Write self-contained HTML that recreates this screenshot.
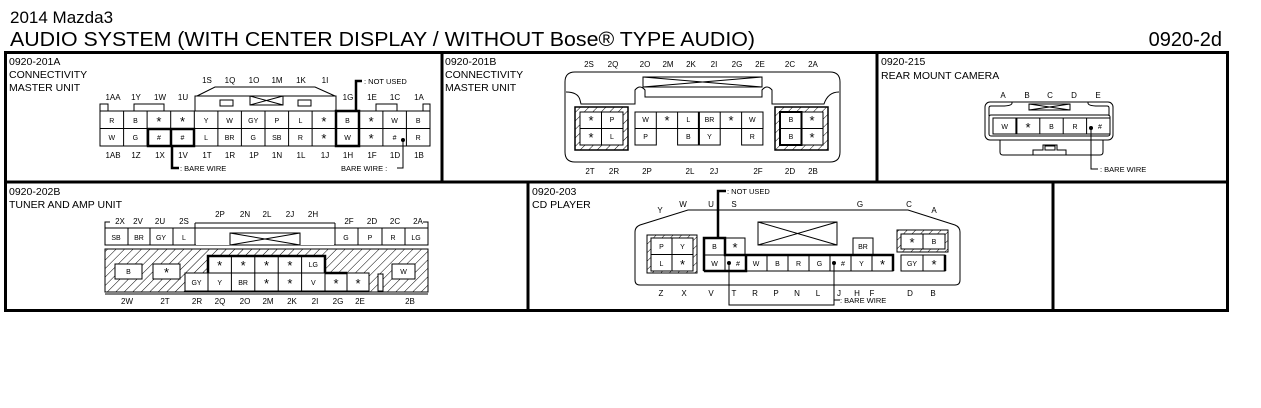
<!DOCTYPE html>
<html><head><meta charset="utf-8"><style>
html,body{margin:0;padding:0;background:#fff;}
svg{display:block;font-family:"Liberation Sans",Arial,sans-serif;}
svg text[font-size="11"]{font-size:13px;transform:translateY(2px);}
</style></head><body>
<svg width="1261" height="408" viewBox="0 0 1261 408" xmlns="http://www.w3.org/2000/svg">
<defs>
<pattern id="h" patternUnits="userSpaceOnUse" width="6" height="6" patternTransform="rotate(45)"><rect width="6" height="6" fill="#fff"/><line x1="0" y1="0" x2="0" y2="6" stroke="#000" stroke-width="1"/></pattern>
</defs>
<rect width="1261" height="408" fill="#fff"/>
<text x="10" y="23" font-size="17">2014 Mazda3</text>
<text x="10" y="46" font-size="20" textLength="745" lengthAdjust="spacingAndGlyphs">AUDIO SYSTEM (WITH CENTER DISPLAY / WITHOUT Bose® TYPE AUDIO)</text>
<text x="1222" y="46" font-size="20" text-anchor="end">0920-2d</text>

<g stroke="#000" stroke-width="3" fill="none">
<rect x="5.5" y="52.5" width="1222" height="258"/>
<line x1="5" y1="182" x2="1228" y2="182"/>
<line x1="442" y1="52" x2="442" y2="182"/>
<line x1="877" y1="52" x2="877" y2="182"/>
<line x1="528" y1="182" x2="528" y2="311"/>
<line x1="1053" y1="182" x2="1053" y2="311"/>
</g>

<g font-size="10.5">
<text x="9" y="65">0920-201A</text><text x="9" y="78">CONNECTIVITY</text><text x="9" y="91">MASTER UNIT</text>
<text x="445" y="65">0920-201B</text><text x="445" y="78">CONNECTIVITY</text><text x="445" y="91">MASTER UNIT</text>
<text x="881" y="65">0920-215</text><text x="881" y="79">REAR MOUNT CAMERA</text>
<text x="9" y="195">0920-202B</text><text x="9" y="208">TUNER AND AMP UNIT</text>
<text x="532" y="195">0920-203</text><text x="532" y="208">CD PLAYER</text>
</g>

<!-- ===== 201A ===== -->
<g stroke="#000" stroke-width="1" fill="none">
<polyline points="197,96 215,87 315,87 335,96"/>
<rect x="195" y="96" width="141" height="15"/>
<rect x="220" y="100" width="13" height="6"/>
<rect x="298" y="100" width="13" height="6"/>
<rect x="250" y="96" width="33" height="9"/><line x1="250" y1="96" x2="283" y2="105"/><line x1="250" y1="105" x2="283" y2="96"/>
<rect x="134" y="104" width="30" height="7"/>
<rect x="376" y="104" width="21" height="7"/>
<rect x="100" y="104" width="8" height="7"/>
<rect x="423" y="104" width="7" height="7"/>
<rect x="100" y="111" width="330" height="35"/>
<line x1="100" y1="128.5" x2="430" y2="128.5"/>
<line x1="123.6" y1="111" x2="123.6" y2="146"/><line x1="147.1" y1="111" x2="147.1" y2="146"/><line x1="170.7" y1="111" x2="170.7" y2="146"/><line x1="194.3" y1="111" x2="194.3" y2="146"/><line x1="217.9" y1="111" x2="217.9" y2="146"/><line x1="241.4" y1="111" x2="241.4" y2="146"/><line x1="265" y1="111" x2="265" y2="146"/><line x1="288.6" y1="111" x2="288.6" y2="146"/><line x1="312.1" y1="111" x2="312.1" y2="146"/><line x1="335.7" y1="111" x2="335.7" y2="146"/><line x1="359.3" y1="111" x2="359.3" y2="146"/><line x1="382.9" y1="111" x2="382.9" y2="146"/><line x1="406.4" y1="111" x2="406.4" y2="146"/>
</g>
<g stroke="#000" stroke-width="2.5" fill="none">
<rect x="148" y="129" width="46" height="17"/><line x1="171" y1="129" x2="171" y2="146"/>
<rect x="336" y="111" width="23" height="35"/>
<polyline points="356,111 356,81 362,81"/>
<polyline points="172,146 172,168 179,168"/>
</g>
<g stroke="#000" stroke-width="1" fill="none"><polyline points="403,140 403,168 397,168"/></g>
<circle cx="403" cy="140" r="2" fill="#000"/>
<g font-size="7" text-anchor="middle">
<text x="111.8" y="123">R</text><text x="135.4" y="123">B</text><text x="158.9" y="124" font-size="11">*</text><text x="182.5" y="124" font-size="11">*</text><text x="206.1" y="123">Y</text><text x="229.6" y="123">W</text><text x="253.2" y="123">GY</text><text x="276.8" y="123">P</text><text x="300.4" y="123">L</text><text x="323.9" y="124" font-size="11">*</text><text x="347.5" y="123">B</text><text x="371.1" y="124" font-size="11">*</text><text x="394.6" y="123">W</text><text x="418.2" y="123">B</text>
<text x="111.8" y="140">W</text><text x="135.4" y="140">G</text><text x="158.9" y="140">#</text><text x="182.5" y="140">#</text><text x="206.1" y="140">L</text><text x="229.6" y="140">BR</text><text x="253.2" y="140">G</text><text x="276.8" y="140">SB</text><text x="300.4" y="140">R</text><text x="323.9" y="141" font-size="11">*</text><text x="347.5" y="140">W</text><text x="371.1" y="141" font-size="11">*</text><text x="394.6" y="140">#</text><text x="418.2" y="140">R</text>
</g>
<g font-size="8" text-anchor="middle">
<text x="113" y="100">1AA</text><text x="136" y="100">1Y</text><text x="160" y="100">1W</text><text x="183" y="100">1U</text>
<text x="207" y="83">1S</text><text x="230" y="83">1Q</text><text x="254" y="83">1O</text><text x="277" y="83">1M</text><text x="301" y="83">1K</text><text x="325" y="83">1I</text>
<text x="348" y="100">1G</text><text x="372" y="100">1E</text><text x="395" y="100">1C</text><text x="419" y="100">1A</text>
<text x="113" y="158">1AB</text><text x="136" y="158">1Z</text><text x="160" y="158">1X</text><text x="183" y="158">1V</text><text x="207" y="158">1T</text><text x="230" y="158">1R</text><text x="254" y="158">1P</text><text x="277" y="158">1N</text><text x="301" y="158">1L</text><text x="325" y="158">1J</text><text x="348" y="158">1H</text><text x="372" y="158">1F</text><text x="395" y="158">1D</text><text x="419" y="158">1B</text>
</g>
<g font-size="7.5"><text x="364" y="84">: NOT USED</text><text x="180" y="171">: BARE WIRE</text><text x="341" y="171">BARE WIRE :</text></g>

<!-- ===== 201B ===== -->
<g stroke="#000" stroke-width="1" fill="none">
<path d="M575,72 H830 Q840,72 840,82 V152 Q840,162 830,162 H575 Q565,162 565,152 V82 Q565,72 575,72 Z"/>
<path d="M566,92 Q578,92 580,100 L581,104 H635 V90 Q640,84 645,90 V97 H762 V90 Q767,84 772,90 V104 H824 Q828,92 839,92" />
<path d="M635,145 V130 Q640,124 645,130 V145"/>
<path d="M699,145 V130 Q704,124 709,130 V145"/>
<rect x="643" y="77" width="119" height="10"/><line x1="643" y1="77" x2="762" y2="87"/><line x1="643" y1="87" x2="762" y2="77"/>
</g>
<rect x="575" y="107" width="53" height="43" fill="url(#h)" stroke="#000" stroke-width="1.5"/>
<rect x="580" y="112" width="43" height="33" fill="#fff" stroke="#000"/>
<line x1="580" y1="128.5" x2="623" y2="128.5" stroke="#000"/><line x1="601.5" y1="112" x2="601.5" y2="145" stroke="#000"/>
<rect x="775" y="107" width="53" height="43" fill="url(#h)" stroke="#000" stroke-width="1.5"/>
<rect x="780" y="112" width="43" height="33" fill="#fff" stroke="#000"/>
<line x1="780" y1="128.5" x2="823" y2="128.5" stroke="#000"/><line x1="801.5" y1="112" x2="801.5" y2="145" stroke="#000"/>
<rect x="780" y="112" width="21.5" height="33" fill="none" stroke="#000" stroke-width="2"/>
<g stroke="#000" stroke-width="1" fill="#fff">
<rect x="635" y="112" width="128" height="16.5"/>
<rect x="635" y="128.5" width="21.3" height="16.5"/>
<rect x="677.6" y="128.5" width="42.6" height="16.5"/>
<rect x="741.6" y="128.5" width="21.3" height="16.5"/>
</g>
<g stroke="#000" stroke-width="1"><line x1="656.3" y1="112" x2="656.3" y2="128"/><line x1="677.6" y1="112" x2="677.6" y2="128"/><line x1="720.2" y1="112" x2="720.2" y2="128"/><line x1="741.6" y1="112" x2="741.6" y2="128"/></g>
<line x1="698.9" y1="112" x2="698.9" y2="145" stroke="#000" stroke-width="2"/>
<g font-size="7" text-anchor="middle">
<text x="591" y="123" font-size="11">*</text><text x="612" y="122">P</text><text x="591" y="140" font-size="11">*</text><text x="612" y="139">L</text>
<text x="645.6" y="122">W</text><text x="667" y="123" font-size="11">*</text><text x="688.3" y="122">L</text><text x="709.5" y="122">BR</text><text x="731" y="123" font-size="11">*</text><text x="752.3" y="122">W</text>
<text x="645.6" y="139">P</text><text x="688.3" y="139">B</text><text x="709.5" y="139">Y</text><text x="752.3" y="139">R</text>
<text x="791" y="122">B</text><text x="812" y="123" font-size="11">*</text><text x="791" y="139">B</text><text x="812" y="140" font-size="11">*</text>
</g>
<g font-size="8" text-anchor="middle">
<text x="589" y="67">2S</text><text x="613" y="67">2Q</text><text x="645" y="67">2O</text><text x="668" y="67">2M</text><text x="691" y="67">2K</text><text x="714" y="67">2I</text><text x="737" y="67">2G</text><text x="760" y="67">2E</text><text x="790" y="67">2C</text><text x="813" y="67">2A</text>
<text x="590" y="174">2T</text><text x="614" y="174">2R</text><text x="647" y="174">2P</text><text x="690" y="174">2L</text><text x="714" y="174">2J</text><text x="758" y="174">2F</text><text x="790" y="174">2D</text><text x="813" y="174">2B</text>
</g>

<!-- ===== 215 ===== -->
<g stroke="#000" stroke-width="1" fill="none">
<rect x="985" y="102" width="128" height="38" rx="5"/>
<path d="M989,116 V108 Q989,106 991,106 H1002 Q1012,106 1012,103 V102"/>
<path d="M1109,116 V108 Q1109,106 1107,106 H1098 Q1088,106 1088,103 V102"/>
<rect x="1029" y="104" width="41" height="6"/><line x1="1029" y1="104" x2="1070" y2="110"/><line x1="1029" y1="110" x2="1070" y2="104"/>
<rect x="989" y="115" width="121" height="21" rx="2"/>
<path d="M1000,140 V152 Q1000,155 1003,155 H1100 Q1103,155 1103,152 V140"/>
<path d="M1033,155 V150 H1043 V145 H1057 V150 H1066 V155"/>
<rect x="1045" y="146" width="10" height="4"/>
</g>
<rect x="993" y="118" width="117" height="16" fill="#fff" stroke="#000"/>
<g stroke="#000"><line x1="1016.4" y1="118" x2="1016.4" y2="134" stroke-width="2"/><line x1="1039.8" y1="118" x2="1039.8" y2="134"/><line x1="1063.2" y1="118" x2="1063.2" y2="134"/><line x1="1086.6" y1="118" x2="1086.6" y2="134"/></g>
<circle cx="1091" cy="128" r="2" fill="#000"/>
<polyline points="1091,128 1091,169 1098,169" stroke="#000" fill="none"/>
<g font-size="7" text-anchor="middle">
<text x="1004.7" y="129">W</text><text x="1028" y="130" font-size="11">*</text><text x="1051.5" y="129">B</text><text x="1075" y="129">R</text><text x="1100" y="129">#</text>
</g>
<g font-size="8" text-anchor="middle"><text x="1003" y="98">A</text><text x="1027" y="98">B</text><text x="1050" y="98">C</text><text x="1074" y="98">D</text><text x="1098" y="98">E</text></g>
<text x="1100" y="172" font-size="7.5">: BARE WIRE</text>

<!-- ===== 202B ===== -->
<rect x="105" y="249" width="323" height="43" fill="url(#h)" stroke="#000"/>
<line x1="105" y1="294" x2="428" y2="294" stroke="#000"/>
<g stroke="#000" stroke-width="1" fill="none">
<polyline points="105,228 105,222 110,222"/><polyline points="423,222 428,222 428,228"/>
<rect x="105" y="228" width="323" height="17"/>
<line x1="128" y1="228" x2="128" y2="245"/><line x1="150" y1="228" x2="150" y2="245"/><line x1="173" y1="228" x2="173" y2="245"/>
<line x1="358" y1="228" x2="358" y2="245"/><line x1="382" y1="228" x2="382" y2="245"/><line x1="405" y1="228" x2="405" y2="245"/>
</g>
<rect x="196" y="229" width="138" height="16" fill="#fff"/>
<g stroke="#000" fill="none"><line x1="195" y1="223" x2="195" y2="245"/><line x1="335" y1="223" x2="335" y2="245"/><line x1="195" y1="223" x2="335" y2="223"/><rect x="230" y="233" width="70" height="12"/><line x1="230" y1="233" x2="300" y2="245"/><line x1="230" y1="245" x2="300" y2="233"/></g>
<g stroke="#000" fill="#fff">
<rect x="115" y="264" width="27" height="15"/>
<rect x="153" y="264" width="27" height="15"/>
<rect x="208" y="256" width="117" height="17"/>
<rect x="185" y="273" width="140" height="18"/>
<rect x="325" y="273" width="44" height="18"/>
<rect x="378" y="274" width="5" height="17"/>
<rect x="392" y="264" width="23" height="15"/>
</g>
<g stroke="#000"><line x1="231.4" y1="256" x2="231.4" y2="291"/><line x1="254.8" y1="256" x2="254.8" y2="291"/><line x1="278.2" y1="256" x2="278.2" y2="291"/><line x1="301.6" y1="256" x2="301.6" y2="291"/><line x1="208" y1="273" x2="208" y2="291"/><line x1="347" y1="273" x2="347" y2="291"/></g>
<g stroke="#000" stroke-width="2.5" fill="none"><polyline points="208,273 208,256 325,256 325,273"/><line x1="325" y1="273" x2="347" y2="273"/></g>
<g font-size="7" text-anchor="middle">
<text x="116" y="240">SB</text><text x="139" y="240">BR</text><text x="161" y="240">GY</text><text x="184" y="240">L</text>
<text x="346" y="240">G</text><text x="370" y="240">P</text><text x="393" y="240">R</text><text x="416" y="240">LG</text>
<text x="128.5" y="274">B</text><text x="166.5" y="275" font-size="11">*</text><text x="403.5" y="274">W</text>
<text x="219.7" y="268" font-size="11">*</text><text x="243.1" y="268" font-size="11">*</text><text x="266.5" y="268" font-size="11">*</text><text x="289.9" y="268" font-size="11">*</text><text x="313.3" y="267">LG</text>
<text x="196.5" y="285">GY</text><text x="219.7" y="285">Y</text><text x="243.1" y="285">BR</text><text x="266.5" y="286" font-size="11">*</text><text x="289.9" y="286" font-size="11">*</text><text x="313.3" y="285">V</text><text x="336" y="286" font-size="11">*</text><text x="358" y="286" font-size="11">*</text>
</g>
<g font-size="8" text-anchor="middle">
<text x="120" y="224">2X</text><text x="138" y="224">2V</text><text x="160" y="224">2U</text><text x="184" y="224">2S</text>
<text x="220" y="217">2P</text><text x="245" y="217">2N</text><text x="267" y="217">2L</text><text x="290" y="217">2J</text><text x="313" y="217">2H</text>
<text x="349" y="224">2F</text><text x="372" y="224">2D</text><text x="395" y="224">2C</text><text x="418" y="224">2A</text>
<text x="127" y="304">2W</text><text x="165" y="304">2T</text><text x="197" y="304">2R</text><text x="220" y="304">2Q</text><text x="245" y="304">2O</text><text x="268" y="304">2M</text><text x="292" y="304">2K</text><text x="315" y="304">2I</text><text x="338" y="304">2G</text><text x="360" y="304">2E</text><text x="410" y="304">2B</text>
</g>

<!-- ===== 203 ===== -->
<g stroke="#000" stroke-width="1" fill="none">
<path d="M688,210 H908 L955,225 Q960,227 960,232 V280 Q960,285 955,285 H640 Q635,285 635,280 V232 Q635,227 640,225 Z"/>
<rect x="758" y="222" width="79" height="23"/><line x1="758" y1="222" x2="837" y2="245"/><line x1="758" y1="245" x2="837" y2="222"/>
</g>
<rect x="647" y="235" width="50" height="38" fill="url(#h)" stroke="#000"/>
<rect x="651" y="238" width="42" height="33" fill="#fff" stroke="#000"/>
<line x1="651" y1="254.5" x2="693" y2="254.5" stroke="#000"/><line x1="672" y1="238" x2="672" y2="271" stroke="#000"/>
<rect x="897" y="230" width="51" height="22" fill="url(#h)" stroke="#000"/>
<rect x="901" y="234" width="44" height="15" fill="#fff" stroke="#000"/><line x1="923" y1="234" x2="923" y2="249" stroke="#000"/>
<g stroke="#000" fill="#fff">
<rect x="704" y="238" width="41" height="17"/>
<rect x="704" y="255" width="189" height="16"/>
<rect x="853" y="238" width="20" height="17"/>
<rect x="901" y="255" width="44" height="16"/>
</g>
<g stroke="#000"><line x1="725" y1="238" x2="725" y2="271"/><line x1="767" y1="255" x2="767" y2="271"/><line x1="788" y1="255" x2="788" y2="271"/><line x1="809" y1="255" x2="809" y2="271"/><line x1="830" y1="255" x2="830" y2="271"/><line x1="851" y1="255" x2="851" y2="271"/><line x1="872" y1="255" x2="872" y2="271"/><line x1="923" y1="255" x2="923" y2="271"/></g>
<g stroke="#000" stroke-width="2.5" fill="none">
<polyline points="704,271 704,238 725,238 725,255 893,255 893,271"/>
<polyline points="704,271 746,271 746,255"/>
<polyline points="945,255 945,271"/>
<polyline points="718,238 718,191 726,191"/>
</g>
<circle cx="729" cy="263" r="2" fill="#000"/><circle cx="834" cy="263" r="2" fill="#000"/>
<polyline points="729,263 729,305 834,305 834,263" stroke="#000" fill="none"/>
<line x1="834" y1="300" x2="840" y2="300" stroke="#000"/>
<g font-size="7" text-anchor="middle">
<text x="661.5" y="249">P</text><text x="682.5" y="249">Y</text><text x="661.5" y="266">L</text><text x="682.5" y="267" font-size="11">*</text>
<text x="714.5" y="249">B</text><text x="735" y="250" font-size="11">*</text><text x="863" y="249">BR</text>
<text x="912" y="245" font-size="11">*</text><text x="934" y="244">B</text>
<text x="714.5" y="266">W</text><text x="738" y="266">#</text><text x="756" y="266">W</text><text x="777.5" y="266">B</text><text x="798.5" y="266">R</text><text x="819.5" y="266">G</text><text x="843" y="266">#</text><text x="861.5" y="266">Y</text><text x="882.5" y="267" font-size="11">*</text>
<text x="912" y="266">GY</text><text x="934" y="267" font-size="11">*</text>
</g>
<g font-size="8" text-anchor="middle">
<text x="660" y="213">Y</text><text x="683" y="207">W</text><text x="711" y="207">U</text><text x="734" y="207">S</text><text x="860" y="207">G</text><text x="909" y="207">C</text><text x="934" y="213">A</text>
<text x="661" y="296">Z</text><text x="684" y="296">X</text><text x="711" y="296">V</text><text x="734" y="296">T</text><text x="755" y="296">R</text><text x="776" y="296">P</text><text x="797" y="296">N</text><text x="818" y="296">L</text><text x="839" y="296">J</text><text x="857" y="296">H</text><text x="872" y="296">F</text><text x="910" y="296">D</text><text x="933" y="296">B</text>
</g>
<g font-size="7.5"><text x="727" y="194">: NOT USED</text><text x="840" y="303">: BARE WIRE</text></g>
</svg>
</body></html>
